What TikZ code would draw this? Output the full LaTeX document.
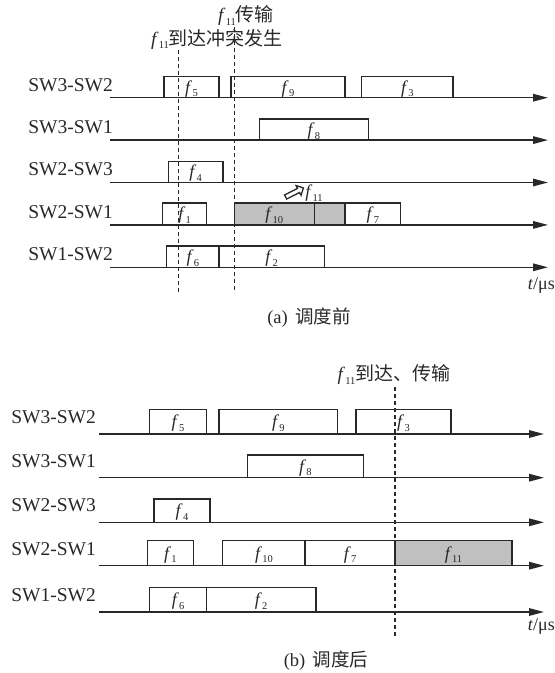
\documentclass[tikz,border=0pt]{standalone}
\usepackage{fontspec}
\setmainfont{Liberation Serif}
\newfontfamily\cjk{Noto Sans CJK SC}
\usetikzlibrary{arrows.meta,shapes.arrows}
\definecolor{ink}{RGB}{40,40,40}
\definecolor{slotgray}{RGB}{192,192,192}
\newcommand\fr[1]{\textit{f}\kern0.2pt\raisebox{-0.45ex}{\fontsize{10.5}{11}\selectfont #1}}
\begin{document}
\begin{tikzpicture}[x=1pt,y=-1pt,
  axisline/.style={draw=ink, line width=1.5pt, -{Triangle[length=15pt,width=7.5pt]}},
  slot/.style={draw=ink, line width=1.5pt},
  grayslot/.style={slot, fill=slotgray},
  vline/.style={draw=ink, line width=1.3pt, dash pattern=on 4pt off 3pt},
  rowlab/.style={anchor=east, text=ink, font=\fontsize{19.5}{22}\selectfont, inner sep=0pt},
  flab/.style={text=ink, font=\fontsize{18}{19}\selectfont, inner sep=0pt, yshift=-1.5pt},
  toplab/.style={text=ink, font=\fontsize{19}{22}\selectfont, inner sep=0pt},
  tlab/.style={anchor=east, text=ink, font=\fontsize{18}{20}\selectfont, inner sep=0pt},
  captlab/.style={text=ink, font=\fontsize{18.5}{22}\selectfont, inner sep=0pt}
]
\useasboundingbox (0,0) rectangle (555,673);

% ================= (a) =================
\foreach \n/\y/\t in {a1/97.7/SW3-SW2, a2/140.1/SW3-SW1, a3/182.5/SW2-SW3, a4/224.9/SW2-SW1, a5/267.3/SW1-SW2}{
  \coordinate (\n s) at (110,\y);
  \coordinate (\n e) at (548,\y);
  \node[rowlab] (\n lab) at (113,\y-13) {\t};
}
% slots (a)
\draw[slot] (164,97.7) rectangle (219,76.7) node[midway,flab] (af5) {\fr{5}};
\draw[slot] (231,97.7) rectangle (345,76.7) node[midway,flab] (af9) {\fr{9}};
\draw[slot] (361.7,97.7) rectangle (453,76.7) node[midway,flab] (af3) {\fr{3}};
\draw[slot] (259.3,140.1) rectangle (368.3,119) node[midway,flab] (af8) {\fr{8}};
\draw[slot] (168.3,182.5) rectangle (223,161.5) node[midway,flab] (af4) {\fr{4}};
\draw[slot] (162.7,224.9) rectangle (206.7,203) node[midway,flab] (af1) {\fr{1}};
\draw[grayslot] (234.3,224.9) rectangle (314.3,203) node[midway,flab] (af10) {\fr{10}};
\draw[grayslot] (314.3,224.9) rectangle (345,203);
\draw[slot] (345,224.9) rectangle (400.7,203) node[midway,flab] (af7) {\fr{7}};
\draw[slot] (166.7,267.3) rectangle (219,246) node[midway,flab] (af6) {\fr{6}};
\draw[slot] (219,267.3) rectangle (324.3,246) node[midway,flab] (af2) {\fr{2}};
\foreach \n in {a1,a2,a3,a4,a5}{ \draw[axisline] (\n s) -- (\n e); }
% dashed lines (a)
\coordinate (ad1t) at (178.3,50); \coordinate (ad1b) at (178.3,293);
\coordinate (ad2t) at (234.3,27); \coordinate (ad2b) at (234.3,293);
\draw[vline] (ad1t) -- (ad1b);
\draw[vline] (ad2t) -- (ad2b);
\node[toplab] (atop1) at (246,16) {\fr{11}{\cjk 传输}};
\node[toplab] (atop2) at (217,39) {\fr{11}{\cjk 到达冲突发生}};
% hollow arrow and f11
\node[single arrow, draw=ink, line width=1.3pt, fill=white, rotate=27,
      minimum height=20pt, minimum width=11pt, inner sep=1.5pt,
      single arrow head extend=3pt] (aarr) at (293.5,193) {};
\node[flab] (af11) at (314,191.5) {\fr{11}};
\node[tlab] (at) at (555,285) {\textit{t}/μs};
\node[captlab] (acap) at (309,318) {(a)\hspace{0.4em}{\cjk 调度前}};

% ================= (b) =================
\foreach \n/\y/\t in {b1/434/SW3-SW2, b2/477.7/SW3-SW1, b3/522.3/SW2-SW3, b4/565.7/SW2-SW1, b5/612/SW1-SW2}{
  \coordinate (\n s) at (99.3,\y);
  \coordinate (\n e) at (544,\y);
  \node[rowlab] (\n lab) at (96,\y-17) {\t};
}
\draw[slot] (149.3,434) rectangle (206.7,409.3) node[midway,flab] (bf5) {\fr{5}};
\draw[slot] (219,434) rectangle (337.7,409.3) node[midway,flab] (bf9) {\fr{9}};
\draw[slot] (356,434) rectangle (451,409.3) node[midway,flab] (bf3) {\fr{3}};
\draw[slot] (247.3,477.7) rectangle (363.3,455) node[midway,flab] (bf8) {\fr{8}};
\draw[slot] (154,522.3) rectangle (210,499) node[midway,flab] (bf4) {\fr{4}};
\draw[slot] (147.3,565.7) rectangle (193.6,540.5) node[midway,flab] (bf1) {\fr{1}};
\draw[slot] (222.7,565.7) rectangle (305.1,540.5) node[midway,flab] (bf10) {\fr{10}};
\draw[slot] (305.1,565.7) rectangle (395,540.5) node[midway,flab] (bf7) {\fr{7}};
\draw[grayslot] (395,565.7) rectangle (512,540.5) node[midway,flab] (bf11) {\fr{11}};
\draw[slot] (149.7,612) rectangle (206.4,587.3) node[midway,flab] (bf6) {\fr{6}};
\draw[slot] (206.4,612) rectangle (315.8,587.3) node[midway,flab] (bf2) {\fr{2}};
\foreach \n in {b1,b2,b3,b4,b5}{ \draw[axisline] (\n s) -- (\n e); }
\coordinate (bd1t) at (395,387); \coordinate (bd1b) at (395,638);
\draw[vline] (bd1t) -- (bd1b);
\node[toplab] (btop) at (394,375) {\fr{11}{\cjk 到达、传输}};
\node[tlab] (bt) at (555,626) {\textit{t}/μs};
\node[captlab] (bcap) at (326,661) {(b)\hspace{0.4em}{\cjk 调度后}};
\end{tikzpicture}
\end{document}
